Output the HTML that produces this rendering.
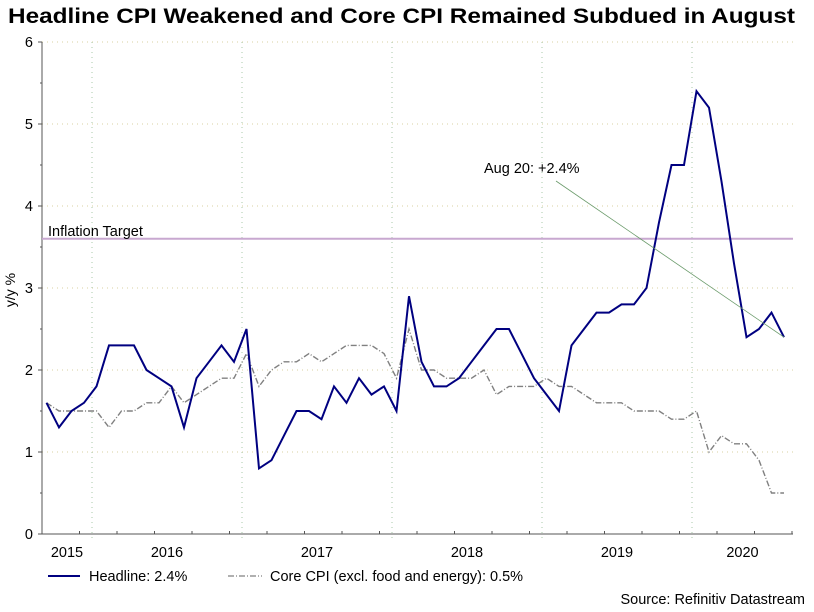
<!DOCTYPE html>
<html><head><meta charset="utf-8">
<style>
body{margin:0;background:#fff;width:814px;height:607px;overflow:hidden;font-family:"Liberation Sans",sans-serif;}
svg text{font-family:"Liberation Sans",sans-serif;}
</style></head>
<body>
<svg id="chart" width="814" height="607" xmlns="http://www.w3.org/2000/svg">
<text x="8" y="23" font-size="21.5" font-weight="bold" fill="#000" textLength="787" lengthAdjust="spacingAndGlyphs">Headline CPI Weakened and Core CPI Remained Subdued in August</text>
<g id="grid"></g>
<g id="axes"></g>
<g id="series"></g>
<text x="15" y="290" font-size="14" text-anchor="middle" transform="rotate(-90 15 290)">y/y %</text>
<g>
<g>
<line x1="48" y1="576" x2="80" y2="576" stroke="#000080" stroke-width="2"/>
<text x="89" y="581" font-size="14.5">Headline: 2.4%</text></g>
<g>
<line x1="228" y1="576" x2="262" y2="576" stroke="#808080" stroke-width="1.3" stroke-dasharray="6,2,1,2"/>
<text x="270" y="581" font-size="14.5">Core CPI (excl. food and energy): 0.5%</text></g>
</g>
<text x="805" y="604" text-anchor="end" font-size="14.5">Source: Refinitiv Datastream</text>
</svg>
<script>
const yearLabels = ["2015","2016","2017","2018","2019","2020"];
const yTicks = [0,1,2,3,4,5,6];
const headline = [1.6,1.3,1.5,1.6,1.8,2.3,2.3,2.3,2.0,1.9,1.8,1.3,1.9,2.1,2.3,2.1,2.5,0.8,0.9,1.2,1.5,1.5,1.4,1.8,1.6,1.9,1.7,1.8,1.5,2.9,2.1,1.8,1.8,1.9,2.1,2.3,2.5,2.5,2.2,1.9,1.7,1.5,2.3,2.5,2.7,2.7,2.8,2.8,3.0,3.8,4.5,4.5,5.4,5.2,4.3,3.3,2.4,2.5,2.7,2.4];
const core = [1.6,1.5,1.5,1.5,1.5,1.3,1.5,1.5,1.6,1.6,1.8,1.6,1.7,1.8,1.9,1.9,2.2,1.8,2.0,2.1,2.1,2.2,2.1,2.2,2.3,2.3,2.3,2.2,1.9,2.5,2.0,2.0,1.9,1.9,1.9,2.0,1.7,1.8,1.8,1.8,1.9,1.8,1.8,1.7,1.6,1.6,1.6,1.5,1.5,1.5,1.4,1.4,1.5,1.0,1.2,1.1,1.1,0.9,0.5,0.5];
const inflationTarget = [3.6];
const annotationText = ["Aug 20: +2.4%"];

const NS="http://www.w3.org/2000/svg";
const L=42,R=793,T=42,B=534;
const yScale=v=>B-(v/6)*(B-T);
const xScale=i=>46.5+i*12.5;
const yearX=k=>92+(k-1)*150;
function mk(tag,attrs,parent){const e=document.createElementNS(NS,tag);for(const k in attrs)e.setAttribute(k,attrs[k]);parent.appendChild(e);return e;}
const grid=document.getElementById('grid'),axes=document.getElementById('axes'),series=document.getElementById('series');

yTicks.forEach(v=>{
  const y=yScale(v);
  if(v>0){const g=mk('line',{x1:L,y1:y,x2:R,y2:y,stroke:'#d8d0a0','stroke-width':1,'stroke-dasharray':'1,4'},grid);
  
  }
  const t=mk('text',{x:33,y:y+5,'text-anchor':'end','font-size':14.5,fill:'#000'},axes);
  t.textContent=v;
  
  
  mk('line',{x1:L-4,y1:y,x2:L,y2:y,stroke:'#555'},axes);
  if(v<6) mk('line',{x1:L-2,y1:yScale(v+0.5),x2:L,y2:yScale(v+0.5),stroke:'#555'},axes);
});
for(let k=1;k<=5;k++){
  const x=yearX(k);
  const g=mk('line',{x1:x,y1:T,x2:x,y2:B+8,stroke:'#a8c8a8','stroke-width':1,'stroke-dasharray':'1,4'},grid);
  
  
}
for(let m=0;m<=62;m+=3){const x=42+m*12.5;if(x<=R)mk('line',{x1:x,y1:B,x2:x,y2:B-3,stroke:'#555'},axes);}
yearLabels.forEach((lab,k)=>{
  const x0=k===0?L:yearX(k),x1=k===5?R:yearX(k+1);
  const t=mk('text',{x:(x0+x1)/2,y:557,'text-anchor':'middle','font-size':14.5},axes);
  t.textContent=lab;
  
  
});
const ax=mk('path',{d:`M${L} ${T} V${B} H${R}`,stroke:'#555',fill:'none','stroke-width':1},axes);



const ty=yScale(inflationTarget[0]);
const tl=mk('line',{x1:L,y1:ty,x2:R,y2:ty,stroke:'#c8a8d0','stroke-width':2},series);


const tt=mk('text',{x:48,y:ty-3,'font-size':14.5},series);
tt.textContent='Inflation Target';



const pts=a=>a.map((v,i)=>xScale(i).toFixed(1)+','+yScale(v).toFixed(1)).join(' ');
const cl=mk('polyline',{points:pts(core),fill:'none',stroke:'#808080','stroke-width':1.4,'stroke-dasharray':'6,2,1,2'},series);


const hl=mk('polyline',{points:pts(headline),fill:'none',stroke:'#000080','stroke-width':2,'stroke-linejoin':'miter'},series);



const li=headline.length-1;
const al=mk('line',{x1:556,y1:181,x2:xScale(li),y2:yScale(headline[li]),stroke:'#6a9a6a','stroke-width':0.8},series);


const at=mk('text',{x:484,y:173,'font-size':14.5},series);
at.textContent=annotationText[0];


</script>
</body></html>
